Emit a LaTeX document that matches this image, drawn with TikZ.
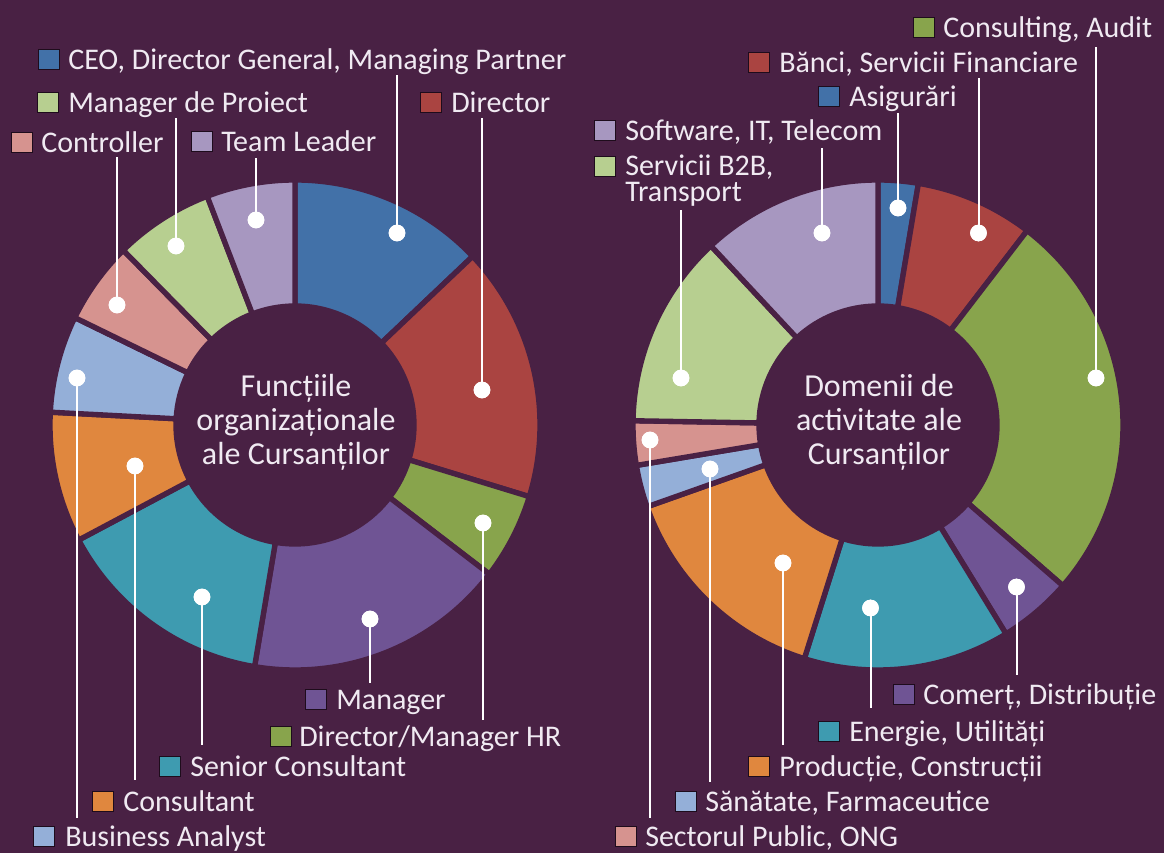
\documentclass[tikz,border=0pt]{standalone}
\usepackage{fontspec}
\setmainfont{Carlito}
\definecolor{bg}{RGB}{73,33,68}
\definecolor{txt}{RGB}{240,234,242}
\definecolor{sqb}{RGB}{30,12,28}
\definecolor{cBlue}{RGB}{66,113,168}
\definecolor{cRed}{RGB}{170,68,65}
\definecolor{cGreen}{RGB}{136,164,76}
\definecolor{cPurple}{RGB}{111,84,148}
\definecolor{cTeal}{RGB}{62,155,176}
\definecolor{cOrange}{RGB}{224,135,62}
\definecolor{cLBlue}{RGB}{148,175,216}
\definecolor{cPink}{RGB}{214,147,143}
\definecolor{cLGreen}{RGB}{183,207,144}
\definecolor{cLilac}{RGB}{167,151,192}
\newcommand\dseg[5]{%
  \fill[#5, draw=bg, line width=4pt] (#1,#2) ++(#3:245) arc[start angle=#3, end angle=#4, radius=245]
    -- ([shift={(#4:119)}]#1,#2) arc[start angle=#4, end angle=#3, radius=119] -- cycle;}
\tikzset{
  legsq/.style={draw=sqb, line width=0.9pt, inner sep=0pt, minimum width=15.5pt, minimum height=15pt, anchor=south west},
  lbl/.style={text=txt, inner sep=0pt, anchor=base west, font=\fontsize{22.5}{26}\selectfont},
  ctr/.style={text=txt, inner sep=0pt, align=center, font=\fontsize{24}{25.5}\selectfont},
  dot/.style={circle, fill=white, inner sep=0pt, minimum size=12.5pt},
  conn/.style={draw=white, line width=1.5pt}
}
\begin{document}
\begin{tikzpicture}[x=0.75pt,y=0.75pt]
\useasboundingbox (0,0) rectangle (1164,853);
\fill[bg] (0,0) rectangle (1164,853);
% ---------- left donut, centre (295,428)
\dseg{295}{428}{90}{43.5}{cBlue}
\dseg{295}{428}{43.5}{-17}{cRed}
\dseg{295}{428}{-17}{-37.5}{cGreen}
\dseg{295}{428}{-37.5}{-99.5}{cPurple}
\dseg{295}{428}{-99.5}{-152}{cTeal}
\dseg{295}{428}{-152}{-183}{cOrange}
\dseg{295}{428}{-183}{-206}{cLBlue}
\dseg{295}{428}{-206}{-225.5}{cPink}
\dseg{295}{428}{-225.5}{-249}{cLGreen}
\dseg{295}{428}{-249}{-270}{cLilac}
\node[ctr] (cl) at (296,431) {Funcțiile\\organizaționale\\ale Cursanților};
% ---------- right donut, centre (878,428)
\dseg{878}{428}{90}{80.5}{cBlue}
\dseg{878}{428}{80.5}{52.5}{cRed}
\dseg{878}{428}{52.5}{-41}{cGreen}
\dseg{878}{428}{-41}{-58.5}{cPurple}
\dseg{878}{428}{-58.5}{-107.5}{cTeal}
\dseg{878}{428}{-107.5}{-160.5}{cOrange}
\dseg{878}{428}{-160.5}{-170.5}{cLBlue}
\dseg{878}{428}{-170.5}{-181}{cPink}
\dseg{878}{428}{-181}{-227}{cLGreen}
\dseg{878}{428}{-227}{-270}{cLilac}
\node[ctr] (cr) at (879,431) {Domenii de\\activitate ale\\Cursanților};
% ---------- left legend
\node[legsq, fill=cBlue] (sq1) at (38,783) {};
\node[lbl] (t1) at (68,783) {CEO, Director General, Managing Partner};
\node[legsq, fill=cLGreen] (sq2) at (37,740) {};
\node[lbl] (t2) at (68,740) {Manager de Proiect};
\node[legsq, fill=cRed] (sq3) at (420,740) {};
\node[lbl] (t3) at (451,740) {Director};
\node[legsq, fill=cPink] (sq4) at (11,700) {};
\node[lbl] (t4) at (41,700) {Controller};
\node[legsq, fill=cLilac] (sq5) at (191,701) {};
\node[lbl] (t5) at (221,701) {Team Leader};
\node[legsq, fill=cPurple] (sq6) at (305,143) {};
\node[lbl] (t6) at (336,143) {Manager};
\node[legsq, fill=cGreen] (sq7) at (270,106) {};
\node[lbl] (t7) at (299,106) {Director/Manager HR};
\node[legsq, fill=cTeal] (sq8) at (159,76) {};
\node[lbl] (t8) at (190,76) {Senior Consultant};
\node[legsq, fill=cOrange] (sq9) at (92,41) {};
\node[lbl] (t9) at (123,41) {Consultant};
\node[legsq, fill=cLBlue] (sq10) at (33,6) {};
\node[lbl] (t10) at (65,6) {Business Analyst};
% left connectors
\coordinate (e1) at (397,778); \node[dot] (d1) at (397,620) {};
\coordinate (e3) at (482,735); \node[dot] (d3) at (482,463) {};
\coordinate (e2) at (176,735); \node[dot] (d2) at (176,607) {};
\coordinate (e4) at (117,696); \node[dot] (d4) at (117,548) {};
\coordinate (e5) at (256,695); \node[dot] (d5) at (256,633) {};
\coordinate (e6) at (370,170); \node[dot] (d6) at (370,234) {};
\coordinate (e7) at (483,133); \node[dot] (d7) at (483,330) {};
\coordinate (e8) at (202,108); \node[dot] (d8) at (202,256) {};
\coordinate (e9) at (135,73);  \node[dot] (d9) at (135,387) {};
\coordinate (e10) at (77,35);  \node[dot] (d10) at (77,475) {};
\foreach \i in {1,...,10} {\draw[conn] (d\i.center) -- (e\i);}
\foreach \i in {1,...,10} {\node[dot] at (d\i) {};}
% ---------- right legend
\node[legsq, fill=cGreen] (rs1) at (913,815) {};
\node[lbl] (rt1) at (943,815) {Consulting, Audit};
\node[legsq, fill=cRed] (rs2) at (748,780) {};
\node[lbl] (rt2) at (779,780) {Bănci, Servicii Financiare};
\node[legsq, fill=cBlue] (rs3) at (818,746) {};
\node[lbl] (rt3) at (849,746) {Asigurări};
\node[legsq, fill=cLilac] (rs4) at (594,712) {};
\node[lbl] (rt4) at (625,712) {Software, IT, Telecom};
\node[legsq, fill=cLGreen] (rs5) at (594,676) {};
\node[lbl, align=left, font=\fontsize{22.5}{19.5}\selectfont] (rt5) at (625,651) {Servicii B2B,\\Transport};
\node[legsq, fill=cPurple] (rs6) at (893,148) {};
\node[lbl] (rt6) at (923,148) {Comerț, Distribuție};
\node[legsq, fill=cTeal] (rs7) at (818,111) {};
\node[lbl] (rt7) at (849,111) {Energie, Utilități};
\node[legsq, fill=cOrange] (rs8) at (748,76) {};
\node[lbl] (rt8) at (779,76) {Producție, Construcții};
\node[legsq, fill=cLBlue] (rs9) at (675,41) {};
\node[lbl] (rt9) at (705,41) {Sănătate, Farmaceutice};
\node[legsq, fill=cPink] (rs10) at (615,6) {};
\node[lbl] (rt10) at (645,6) {Sectorul Public, ONG};
% right connectors
\coordinate (f1) at (1096,806); \node[dot] (g1) at (1096,475) {};
\coordinate (f2) at (978.5,775); \node[dot] (g2) at (978.5,620) {};
\coordinate (f3) at (898,740); \node[dot] (g3) at (898,645) {};
\coordinate (f4) at (822,705); \node[dot] (g4) at (822,620) {};
\coordinate (f5) at (681,643); \node[dot] (g5) at (681,475) {};
\coordinate (f6) at (1016.5,178); \node[dot] (g6) at (1016.5,266) {};
\coordinate (f7) at (870.5,145); \node[dot] (g7) at (870.5,245) {};
\coordinate (f8) at (783,108); \node[dot] (g8) at (783,290) {};
\coordinate (f9) at (710,71); \node[dot] (g9) at (710,384) {};
\coordinate (f10) at (650,35); \node[dot] (g10) at (650,413) {};
\foreach \i in {1,...,10} {\draw[conn] (g\i.center) -- (f\i);}
\foreach \i in {1,...,10} {\node[dot] at (g\i) {};}
\end{tikzpicture}
\end{document}
